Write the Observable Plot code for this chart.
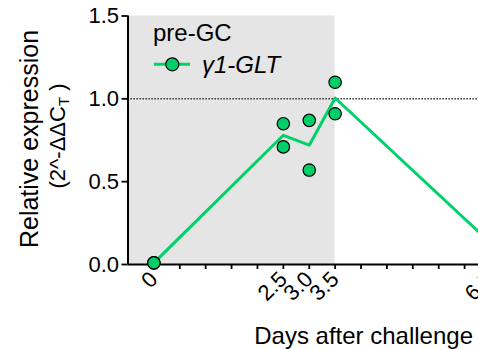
<!DOCTYPE html>
<html>
<head>
<meta charset="utf-8">
<script src="https://cdn.jsdelivr.net/npm/d3@7"></script>
<script src="https://cdn.jsdelivr.net/npm/@observablehq/plot@0.6"></script>
<style>
  html, body { margin: 0; padding: 0; background: #fff; overflow: hidden; }
  svg { overflow: hidden; }
</style>
</head>
<body>
<div id="chart"></div>
<script>
// ---- data ----
const days = [0, 2.5, 3, 3.5, 6.5];
const repA = [0.01, 0.85, 0.87, 1.10, 0.16];
const repB = [0.01, 0.71, 0.57, 0.91, 0.10];
const tickDays = [0, 2.5, 3, 3.5, 6.5];
const tickLabels = ["0", "2.5", "3.0", "3.5", "6.5"];
const yTicks = [0, 0.5, 1.0, 1.5];
const shadeDays = [-0.5, 3.5];
const refLevel = [1.0];
const seriesName = "γ1-GLT";
const groupName = "pre-GC";

const green = "#00d26a";
const fillGreen = "#00cf68";
const font = "'Liberation Sans', Arial, Helvetica, sans-serif";

const points = days.flatMap((d, i) => [{day: d, value: repA[i]}, {day: d, value: repB[i]}]);
const means = days.map((d, i) => ({day: d, value: d3.mean([repA[i], repB[i]])}));
const labelMap = new Map(tickDays.map((d, i) => [d, tickLabels[i]]));
const minorTicks = d3.range(0, 7, 0.5);

const svg = Plot.plot({
  width: 478,
  height: 349,
  marginLeft: 127.5,
  marginRight: 0,
  marginTop: 15.5,
  marginBottom: 85,
  style: {fontFamily: font, background: "#fff", color: "#000", overflow: "hidden"},
  x: {domain: [-0.5, 6.5], range: [127.5, 490]},
  y: {domain: [0, 1.5], range: [264, 15.5]},
  marks: [
    Plot.rect([{x1: shadeDays[0], x2: shadeDays[1], y1: 0, y2: 1.5}], {x1: "x1", x2: "x2", y1: "y1", y2: "y2", fill: "#e5e5e5"}),
    Plot.ruleY(refLevel, {stroke: "#000", strokeWidth: 1.5, strokeDasharray: "1.2,1.8"}),
    Plot.axisY({ticks: yTicks, tickFormat: d => d.toFixed(1), tickSize: 6, tickPadding: 3, fontSize: 22, strokeWidth: 1.8, label: null}),
    Plot.axisX({ticks: minorTicks, tickFormat: d => labelMap.get(d) ?? "", tickSize: 5, tickPadding: 6, tickRotate: -45, fontSize: 22, strokeWidth: 1.8, label: null}),
    Plot.ruleX([-0.5], {y1: 0, y2: 1.5, stroke: "#000", strokeWidth: 2}),
    Plot.ruleY([0], {stroke: "#000", strokeWidth: 2}),
    Plot.line(means, {x: "day", y: "value", stroke: green, strokeWidth: 3}),
    Plot.dot(points, {x: "day", y: "value", r: 6.2, fill: fillGreen, stroke: "#000", strokeWidth: 1.2})
  ]
});

const s = d3.select(svg);
// axis titles
s.append("text")
  .attr("x", 473).attr("y", 344)
  .attr("text-anchor", "end")
  .attr("font-size", 24).attr("font-family", font).attr("fill", "#000")
  .text("Days after challenge");

s.append("text")
  .attr("transform", "translate(38,139) rotate(-90)")
  .attr("text-anchor", "middle")
  .attr("font-size", 25).attr("font-family", font).attr("fill", "#000")
  .text("Relative expression");

const l2 = s.append("text")
  .attr("transform", "translate(65,136) rotate(-90)")
  .attr("text-anchor", "middle")
  .attr("font-size", 22).attr("font-family", font).attr("fill", "#000");
l2.append("tspan").text("(2^-ΔΔC");
l2.append("tspan").attr("font-size", 15).attr("dy", 4).text("T");
l2.append("tspan").attr("dy", -4).text(" )");

// legend
s.append("text")
  .attr("x", 153).attr("y", 41)
  .attr("text-anchor", "start")
  .attr("font-size", 24).attr("font-family", font).attr("fill", "#000")
  .text(groupName);
s.append("line")
  .attr("x1", 154).attr("x2", 190).attr("y1", 64.3).attr("y2", 64.3)
  .attr("stroke", green).attr("stroke-width", 3);
s.append("circle")
  .attr("cx", 172.3).attr("cy", 64.3).attr("r", 6.5)
  .attr("fill", fillGreen).attr("stroke", "#000").attr("stroke-width", 1.2);
s.append("text")
  .attr("x", 202).attr("y", 73)
  .attr("text-anchor", "start")
  .attr("font-size", 24).attr("font-style", "italic").attr("font-family", font).attr("fill", "#000")
  .text(seriesName);

document.getElementById("chart").appendChild(svg);
</script>
</body>
</html>
